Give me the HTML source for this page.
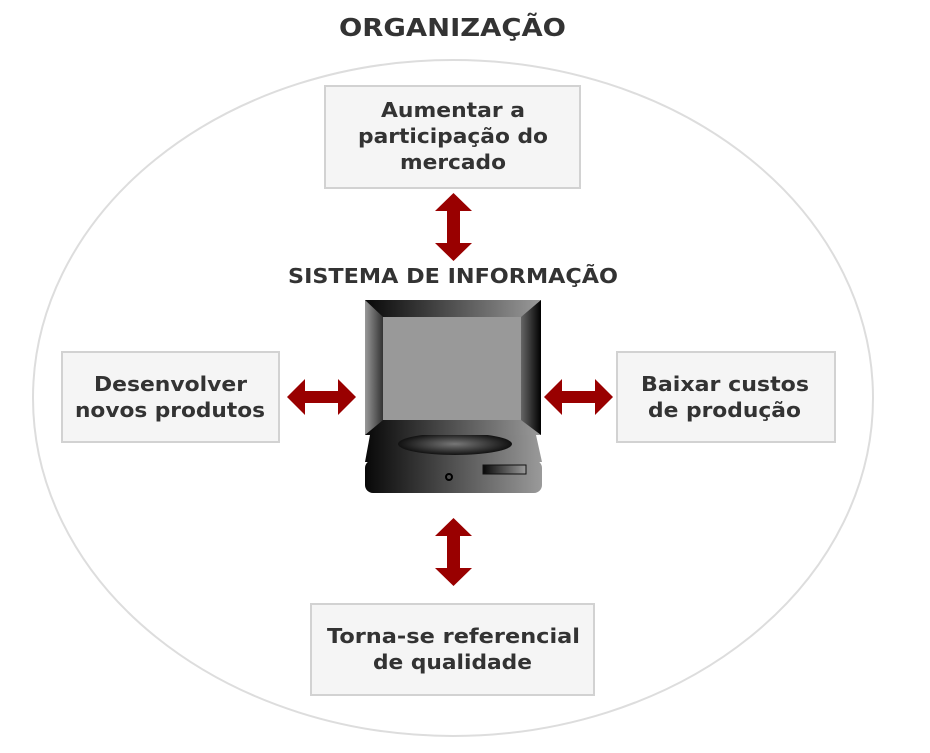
<!DOCTYPE html>
<html><head><meta charset="utf-8"><style>
html,body{margin:0;padding:0;background:#fff}
svg{display:block}
text{font-family:"DejaVu Sans","Liberation Sans",sans-serif;font-weight:bold;fill:#333}
</style></head><body>
<svg width="930" height="753" viewBox="0 0 930 753" xmlns="http://www.w3.org/2000/svg">
<defs>
<linearGradient id="g" x1="0" x2="1" y1="0" y2="0">
<stop offset="0" stop-color="#080808"/><stop offset="1" stop-color="#9a9a9a"/></linearGradient>
<linearGradient id="gl" x1="0" x2="1"><stop offset="0" stop-color="#999"/><stop offset="1" stop-color="#333"/></linearGradient>
<linearGradient id="gr" x1="0" x2="1"><stop offset="0" stop-color="#666"/><stop offset="1" stop-color="#000"/></linearGradient>
<radialGradient id="ge"><stop offset="0" stop-color="#777"/><stop offset="1" stop-color="#111"/></radialGradient>
</defs>
<text x="339" y="36" font-size="25" textLength="227" lengthAdjust="spacingAndGlyphs">ORGANIZAÇÃO</text>
<ellipse cx="453" cy="398" rx="420" ry="338" fill="none" stroke="#ddd" stroke-width="2"/>

<g fill="#f5f5f5" stroke="#d2d2d2" stroke-width="2">
<rect x="325" y="86" width="255" height="102"/>
<rect x="62" y="352" width="217" height="90"/>
<rect x="617" y="352" width="218" height="90"/>
<rect x="311" y="604" width="283" height="91"/>
</g>
<g font-size="20" lengthAdjust="spacingAndGlyphs">
<text x="381" y="117" textLength="144" lengthAdjust="spacingAndGlyphs">Aumentar a</text>
<text x="358" y="143" textLength="190" lengthAdjust="spacingAndGlyphs">participação do</text>
<text x="400" y="169" textLength="106" lengthAdjust="spacingAndGlyphs">mercado</text>
<text x="94" y="391" textLength="153" lengthAdjust="spacingAndGlyphs">Desenvolver</text>
<text x="75" y="417" textLength="190" lengthAdjust="spacingAndGlyphs">novos produtos</text>
<text x="641" y="391" textLength="168" lengthAdjust="spacingAndGlyphs">Baixar custos</text>
<text x="648" y="417" textLength="153" lengthAdjust="spacingAndGlyphs">de produção</text>
<text x="327" y="643" textLength="253" lengthAdjust="spacingAndGlyphs">Torna-se referencial</text>
<text x="373" y="669" textLength="159" lengthAdjust="spacingAndGlyphs">de qualidade</text>
<text x="288" y="283" textLength="330" lengthAdjust="spacingAndGlyphs">SISTEMA DE INFORMAÇÃO</text>
</g>

<g fill="#990000">
<polygon points="453.5,193 472,211 460,211 460,243 472,243 453.5,261 435,243 447,243 447,211 435,211"/>
<polygon points="453.5,518 472,536 460,536 460,568 472,568 453.5,586 435,568 447,568 447,536 435,536"/>
<polygon points="287,397 305,379 305,391 338,391 338,379 356,397 338,415 338,403 305,403 305,415"/>
<polygon points="544,397 562,379 562,391 595,391 595,379 613,397 595,415 595,403 562,403 562,415"/>
</g>

<polygon points="370,435 536,435 542,462 365,462" fill="url(#g)"/>
<ellipse cx="455" cy="444" rx="57" ry="11" fill="url(#ge)"/>
<rect x="365" y="460" width="177" height="33" rx="8" fill="url(#g)"/>
<circle cx="449" cy="477" r="3" fill="none" stroke="#000" stroke-width="2"/>
<rect x="483" y="465" width="43" height="9" fill="url(#g)" stroke="#111" stroke-width="1"/>
<rect x="365" y="300" width="176" height="135" fill="url(#g)"/>
<polygon points="365,300 383,317 383,420 365,435" fill="url(#gl)"/>
<polygon points="541,300 521,317 521,420 541,435" fill="url(#gr)"/>
<rect x="383" y="317" width="138" height="103" fill="#999"/>
</svg>
</body></html>
